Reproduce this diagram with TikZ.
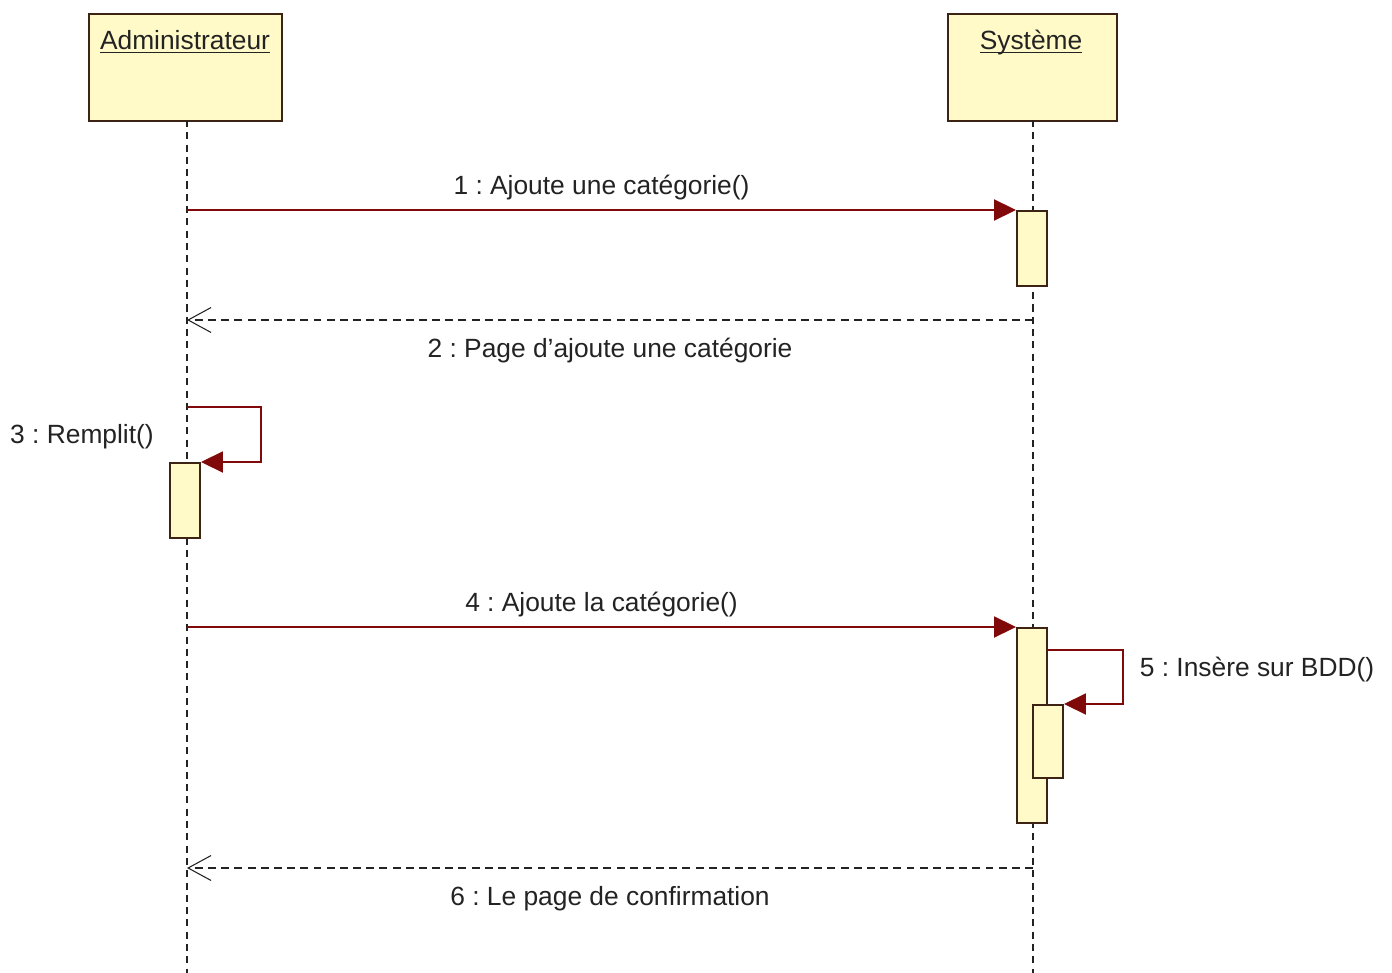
\documentclass[tikz,border=0pt]{standalone}
\usepackage{fontspec}
\setmainfont{Liberation Sans}
\usetikzlibrary{arrows.meta}
\definecolor{boxfill}{RGB}{255,250,200}
\definecolor{boxline}{RGB}{60,35,20}
\definecolor{msgred}{RGB}{128,10,10}
\definecolor{txtgray}{RGB}{35,35,35}
\tikzset{
  actor/.style={draw=boxline, fill=boxfill, line width=1.1pt, inner sep=0pt},
  activ/.style={draw=boxline, fill=boxfill, line width=1.1pt, inner sep=0pt,
    minimum width=0.6cm},
  lifeline/.style={draw=txtgray, line width=1.1pt, dash pattern=on 4pt off 3pt},
  msg/.style={draw=msgred, line width=1.1pt,
    -{Triangle[length=0.44cm,width=0.42cm,fill=msgred]}},
  reply/.style={draw=txtgray, line width=1.1pt, dash pattern=on 4.5pt off 3pt,
    -{Straight Barb[length=0.46cm,width=0.5cm,line width=0.6pt]}},
  lbl/.style={text=txtgray, inner sep=2pt}
}
\frenchspacing
\begin{document}
\begin{tikzpicture}[x=0.02cm, y=-0.02cm, font=\fontsize{15}{18}\selectfont]
  \useasboundingbox[fill=white] (0,0) rectangle (1392,973);
  % lifeline heads
  \node[actor, minimum width=3.86cm, minimum height=2.14cm, anchor=north west] (admin) at (88,13) {};
  \node[actor, minimum width=3.38cm, minimum height=2.14cm, anchor=north west] (sys) at (947,13) {};
  \node[lbl, anchor=base] (adminname) at (185,50) {\underline{Administrateur}};
  \node[lbl, anchor=base] (sysname) at (1031,50) {\underline{\smash{Système}}};
  \coordinate (adminend) at (187,973);
  \coordinate (sysend) at (1033,973);
  \draw[lifeline] (187,120) -- (adminend);
  \draw[lifeline] (1033,120) -- (sysend);

  % activations
  \node[activ, minimum height=1.5cm, anchor=north] (act1) at (1032,210) {};
  \node[activ, minimum height=1.5cm, anchor=north] (act3) at (185,462) {};
  \node[activ, minimum height=3.9cm, anchor=north] (act4) at (1032,627) {};
  \node[activ, minimum height=1.46cm, anchor=north] (act5) at (1048,704) {};

  % message ends
  \coordinate (m1) at (187,210);
  \coordinate (r2a) at (1033,320);
  \coordinate (r2b) at (187,320);
  \coordinate (s3) at (187,407);
  \coordinate (m4) at (187,627);
  \coordinate (s5) at (1047,650);
  \coordinate (r6a) at (1033,868);
  \coordinate (r6b) at (187,868);

  % messages
  \draw[msg] (m1) -- node[lbl, above=3pt] (l1) {1 : Ajoute une catégorie()} (act1.north west);
  \draw[reply] (r2a) -- node[lbl, below=8pt] (l2) {2 : Page d'ajoute une catégorie} (r2b);
  \draw[msg] (s3) -- ++(74,0) |- (act3.north east);
  \node[lbl] (l3) at (82,437) {3 : Remplit()};
  \draw[msg] (m4) -- node[lbl, above=3pt] (l4) {4 : Ajoute la catégorie()} (act4.north west);
  \draw[msg] (s5) -- ++(76,0) |- (act5.north east);
  \node[lbl, anchor=west] (l5) at (1136,670) {5 : Insère sur BDD()};
  \draw[reply] (r6a) -- node[lbl, below=8pt] (l6) {6 : Le page de confirmation} (r6b);
\end{tikzpicture}
\end{document}
